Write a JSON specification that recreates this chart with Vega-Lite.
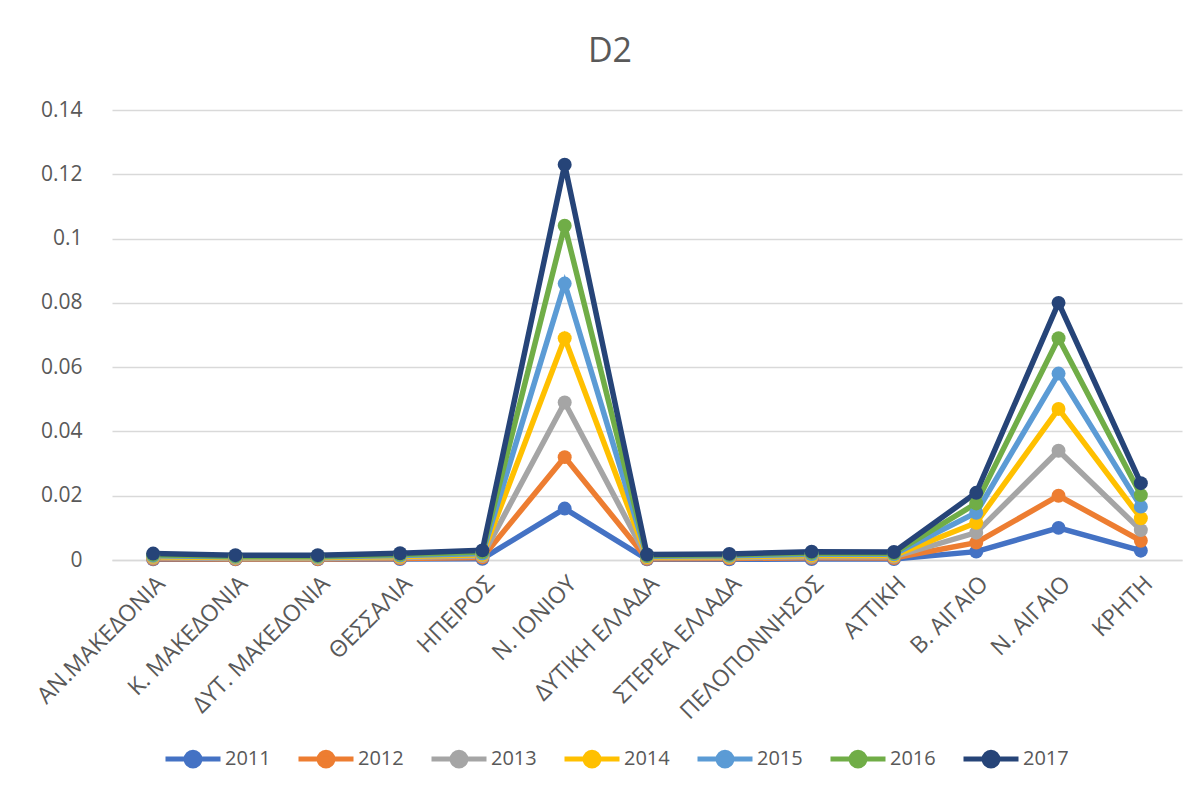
{
  "$schema": "https://vega.github.io/schema/vega-lite/v6.json",
  "width": 1070,
  "height": 450,
  "autosize": {"type": "none"},
  "padding": {"left": 112, "top": 110, "right": 18, "bottom": 229},
  "background": "white",
  "title": {"text": "D2", "fontSize": 34, "font": "Open Sans", "fontWeight": "normal", "color": "#595959", "offset": 30, "dx": -37, "anchor": "middle"},
  "data": {"values": [
    {"r":"ΑΝ.ΜΑΚΕΔΟΝΙΑ","y":"2011","v":0.0002},{"r":"Κ. ΜΑΚΕΔΟΝΙΑ","y":"2011","v":0.0002},{"r":"ΔΥΤ. ΜΑΚΕΔΟΝΙΑ","y":"2011","v":0.0002},{"r":"ΘΕΣΣΑΛΙΑ","y":"2011","v":0.0003},{"r":"ΗΠΕΙΡΟΣ","y":"2011","v":0.0004},{"r":"Ν. ΙΟΝΙΟΥ","y":"2011","v":0.016},{"r":"ΔΥΤΙΚΗ ΕΛΛΑΔΑ","y":"2011","v":0.0002},{"r":"ΣΤΕΡΕΑ ΕΛΛΑΔΑ","y":"2011","v":0.0002},{"r":"ΠΕΛΟΠΟΝΝΗΣΟΣ","y":"2011","v":0.0003},{"r":"ΑΤΤΙΚΗ","y":"2011","v":0.0003},{"r":"Β. ΑΙΓΑΙΟ","y":"2011","v":0.0026},{"r":"Ν. ΑΙΓΑΙΟ","y":"2011","v":0.010},{"r":"ΚΡΗΤΗ","y":"2011","v":0.0029},
    {"r":"ΑΝ.ΜΑΚΕΔΟΝΙΑ","y":"2012","v":0.0004},{"r":"Κ. ΜΑΚΕΔΟΝΙΑ","y":"2012","v":0.0003},{"r":"ΔΥΤ. ΜΑΚΕΔΟΝΙΑ","y":"2012","v":0.0003},{"r":"ΘΕΣΣΑΛΙΑ","y":"2012","v":0.0005},{"r":"ΗΠΕΙΡΟΣ","y":"2012","v":0.0008},{"r":"Ν. ΙΟΝΙΟΥ","y":"2012","v":0.032},{"r":"ΔΥΤΙΚΗ ΕΛΛΑΔΑ","y":"2012","v":0.0004},{"r":"ΣΤΕΡΕΑ ΕΛΛΑΔΑ","y":"2012","v":0.0005},{"r":"ΠΕΛΟΠΟΝΝΗΣΟΣ","y":"2012","v":0.0007},{"r":"ΑΤΤΙΚΗ","y":"2012","v":0.0006},{"r":"Β. ΑΙΓΑΙΟ","y":"2012","v":0.0054},{"r":"Ν. ΑΙΓΑΙΟ","y":"2012","v":0.020},{"r":"ΚΡΗΤΗ","y":"2012","v":0.0060},
    {"r":"ΑΝ.ΜΑΚΕΔΟΝΙΑ","y":"2013","v":0.0007},{"r":"Κ. ΜΑΚΕΔΟΝΙΑ","y":"2013","v":0.0005},{"r":"ΔΥΤ. ΜΑΚΕΔΟΝΙΑ","y":"2013","v":0.0005},{"r":"ΘΕΣΣΑΛΙΑ","y":"2013","v":0.0008},{"r":"ΗΠΕΙΡΟΣ","y":"2013","v":0.0012},{"r":"Ν. ΙΟΝΙΟΥ","y":"2013","v":0.049},{"r":"ΔΥΤΙΚΗ ΕΛΛΑΔΑ","y":"2013","v":0.0007},{"r":"ΣΤΕΡΕΑ ΕΛΛΑΔΑ","y":"2013","v":0.0008},{"r":"ΠΕΛΟΠΟΝΝΗΣΟΣ","y":"2013","v":0.0010},{"r":"ΑΤΤΙΚΗ","y":"2013","v":0.0010},{"r":"Β. ΑΙΓΑΙΟ","y":"2013","v":0.0085},{"r":"Ν. ΑΙΓΑΙΟ","y":"2013","v":0.034},{"r":"ΚΡΗΤΗ","y":"2013","v":0.0093},
    {"r":"ΑΝ.ΜΑΚΕΔΟΝΙΑ","y":"2014","v":0.0010},{"r":"Κ. ΜΑΚΕΔΟΝΙΑ","y":"2014","v":0.0008},{"r":"ΔΥΤ. ΜΑΚΕΔΟΝΙΑ","y":"2014","v":0.0008},{"r":"ΘΕΣΣΑΛΙΑ","y":"2014","v":0.0011},{"r":"ΗΠΕΙΡΟΣ","y":"2014","v":0.0016},{"r":"Ν. ΙΟΝΙΟΥ","y":"2014","v":0.069},{"r":"ΔΥΤΙΚΗ ΕΛΛΑΔΑ","y":"2014","v":0.0009},{"r":"ΣΤΕΡΕΑ ΕΛΛΑΔΑ","y":"2014","v":0.0010},{"r":"ΠΕΛΟΠΟΝΝΗΣΟΣ","y":"2014","v":0.0014},{"r":"ΑΤΤΙΚΗ","y":"2014","v":0.0014},{"r":"Β. ΑΙΓΑΙΟ","y":"2014","v":0.0116},{"r":"Ν. ΑΙΓΑΙΟ","y":"2014","v":0.047},{"r":"ΚΡΗΤΗ","y":"2014","v":0.0130},
    {"r":"ΑΝ.ΜΑΚΕΔΟΝΙΑ","y":"2015","v":0.0013},{"r":"Κ. ΜΑΚΕΔΟΝΙΑ","y":"2015","v":0.0010},{"r":"ΔΥΤ. ΜΑΚΕΔΟΝΙΑ","y":"2015","v":0.0010},{"r":"ΘΕΣΣΑΛΙΑ","y":"2015","v":0.0014},{"r":"ΗΠΕΙΡΟΣ","y":"2015","v":0.0020},{"r":"Ν. ΙΟΝΙΟΥ","y":"2015","v":0.086},{"r":"ΔΥΤΙΚΗ ΕΛΛΑΔΑ","y":"2015","v":0.0012},{"r":"ΣΤΕΡΕΑ ΕΛΛΑΔΑ","y":"2015","v":0.0013},{"r":"ΠΕΛΟΠΟΝΝΗΣΟΣ","y":"2015","v":0.0018},{"r":"ΑΤΤΙΚΗ","y":"2015","v":0.0018},{"r":"Β. ΑΙΓΑΙΟ","y":"2015","v":0.0147},{"r":"Ν. ΑΙΓΑΙΟ","y":"2015","v":0.058},{"r":"ΚΡΗΤΗ","y":"2015","v":0.0166},
    {"r":"ΑΝ.ΜΑΚΕΔΟΝΙΑ","y":"2016","v":0.0016},{"r":"Κ. ΜΑΚΕΔΟΝΙΑ","y":"2016","v":0.0012},{"r":"ΔΥΤ. ΜΑΚΕΔΟΝΙΑ","y":"2016","v":0.0012},{"r":"ΘΕΣΣΑΛΙΑ","y":"2016","v":0.0017},{"r":"ΗΠΕΙΡΟΣ","y":"2016","v":0.0025},{"r":"Ν. ΙΟΝΙΟΥ","y":"2016","v":0.104},{"r":"ΔΥΤΙΚΗ ΕΛΛΑΔΑ","y":"2016","v":0.0014},{"r":"ΣΤΕΡΕΑ ΕΛΛΑΔΑ","y":"2016","v":0.0016},{"r":"ΠΕΛΟΠΟΝΝΗΣΟΣ","y":"2016","v":0.0022},{"r":"ΑΤΤΙΚΗ","y":"2016","v":0.0021},{"r":"Β. ΑΙΓΑΙΟ","y":"2016","v":0.0176},{"r":"Ν. ΑΙΓΑΙΟ","y":"2016","v":0.069},{"r":"ΚΡΗΤΗ","y":"2016","v":0.0202},
    {"r":"ΑΝ.ΜΑΚΕΔΟΝΙΑ","y":"2017","v":0.0020},{"r":"Κ. ΜΑΚΕΔΟΝΙΑ","y":"2017","v":0.0015},{"r":"ΔΥΤ. ΜΑΚΕΔΟΝΙΑ","y":"2017","v":0.0015},{"r":"ΘΕΣΣΑΛΙΑ","y":"2017","v":0.0021},{"r":"ΗΠΕΙΡΟΣ","y":"2017","v":0.0030},{"r":"Ν. ΙΟΝΙΟΥ","y":"2017","v":0.123},{"r":"ΔΥΤΙΚΗ ΕΛΛΑΔΑ","y":"2017","v":0.0017},{"r":"ΣΤΕΡΕΑ ΕΛΛΑΔΑ","y":"2017","v":0.0019},{"r":"ΠΕΛΟΠΟΝΝΗΣΟΣ","y":"2017","v":0.0026},{"r":"ΑΤΤΙΚΗ","y":"2017","v":0.0025},{"r":"Β. ΑΙΓΑΙΟ","y":"2017","v":0.0209},{"r":"Ν. ΑΙΓΑΙΟ","y":"2017","v":0.080},{"r":"ΚΡΗΤΗ","y":"2017","v":0.0239}
  ]},
  "mark": {"type": "line", "strokeWidth": 5.5, "point": {"filled": true, "size": 195, "opacity": 1}},
  "encoding": {
    "x": {"field": "r", "type": "nominal", "sort": null, "title": null,
      "scale": {"type": "point", "padding": 0.5},
      "axis": {"labelAngle": -45, "labelFontSize": 23, "labelFont": "Open Sans", "labelColor": "#595959", "labelLimit": 400, "ticks": false, "domainColor": "#d9d9d9", "domainWidth": 1.5, "labelPadding": 12, "grid": false}},
    "y": {"field": "v", "type": "quantitative", "title": null,
      "scale": {"domain": [0, 0.14], "nice": false},
      "axis": {"values": [0, 0.02, 0.04, 0.06, 0.08, 0.1, 0.12, 0.14], "format": "~g", "labelFontSize": 21, "labelFont": "Open Sans", "labelColor": "#595959", "domain": false, "ticks": false, "labelPadding": 30, "gridColor": "#d9d9d9", "gridWidth": 1.5}},
    "color": {"field": "y", "type": "nominal", "title": null,
      "scale": {"domain": ["2011","2012","2013","2014","2015","2016","2017"], "range": ["#4472C4","#ED7D31","#A5A5A5","#FFC000","#5B9BD5","#70AD47","#264478"]},
      "legend": {"orient": "none", "legendX": 51, "legendY": 619, "direction": "horizontal", "columns": 7, "columnPadding": 17,
        "symbolType": "M-1,0H1M-0.25,0A0.25,0.25,0,1,1,0.25,0A0.25,0.25,0,1,1,-0.25,0Z", "symbolSize": 3025, "symbolStrokeWidth": 5,
        "labelFontSize": 20, "labelFont": "Open Sans", "labelColor": "#595959", "labelOffset": 2}}
  },
  "config": {"view": {"stroke": null}}
}
